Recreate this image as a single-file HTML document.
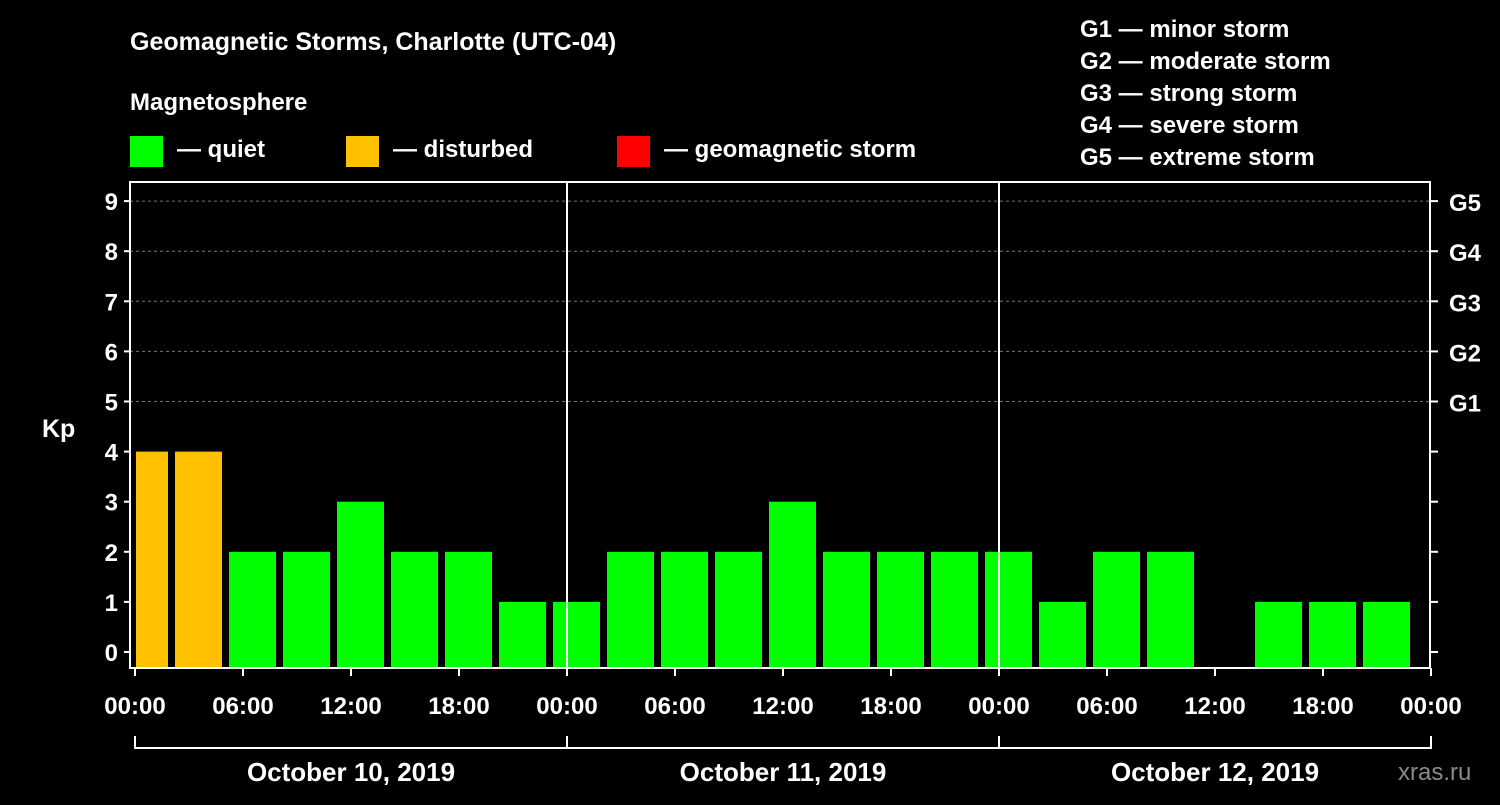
<!DOCTYPE html>
<html><head><meta charset="utf-8"><style>
body{margin:0;background:#000;width:1500px;height:800px;overflow:hidden}
svg text{font-family:"Liberation Sans",Arial,sans-serif;font-weight:bold;fill:#fff}
</style></head><body>
<svg id="c" width="1500" height="800">
<text x="130" y="50" font-size="25">Geomagnetic Storms, Charlotte (UTC-04)</text>
<text x="130" y="110" font-size="24">Magnetosphere</text>
<g><rect x="130" y="136" width="33" height="31" fill="#00ff00"/><text x="177" y="157" font-size="24">— quiet</text></g>
<g><rect x="346" y="136" width="33" height="31" fill="#ffc000"/><text x="393" y="157" font-size="24">— disturbed</text></g>
<g><rect x="617" y="136" width="33" height="31" fill="#ff0000"/><text x="664" y="157" font-size="24">— geomagnetic storm</text></g>
<g font-size="24">
<text x="1080" y="37">G1 — minor storm</text><text x="1080" y="69">G2 — moderate storm</text><text x="1080" y="101">G3 — strong storm</text><text x="1080" y="133">G4 — severe storm</text><text x="1080" y="165">G5 — extreme storm</text></g>
<text x="42" y="437" font-size="25">Kp</text>
<text x="1398" y="780" font-size="24" fill="#888" style="fill:#8a8a8a;font-weight:normal">xras.ru</text>
<g id="grid"></g><g id="bars"></g><g id="axes"></g>
</svg>
<script>
const values=[4,4,2,2,3,2,2,1, 1,2,2,2,3,2,2,2, 2,1,2,2,0,1,1,1];
const yTicks=[0,1,2,3,4,5,6,7,8,9];
const gLabels=["G1","G2","G3","G4","G5"];
const xTickLabels=["00:00","06:00","12:00","18:00","00:00","06:00","12:00","18:00","00:00","06:00","12:00","18:00","00:00"];
const days=["October 10, 2019","October 11, 2019","October 12, 2019"];
const NS="http://www.w3.org/2000/svg";
const L=130,R=1430,T=182,B=668,X0=135,DAY=432;
const y=v=>652-50.1*v;
const x=h=>X0+h*DAY/24;
function mk(tag,attrs,parent,txt){const e=document.createElementNS(NS,tag);for(const k in attrs)e.setAttribute(k,attrs[k]);if(txt!==undefined)e.textContent=txt;document.getElementById(parent).appendChild(e);return e;}
for(let v=5;v<=9;v++){const g=mk('line',{x1:L,x2:R,y1:y(v),y2:y(v),stroke:'#777','stroke-dasharray':'3,3'},'grid');

}
values.forEach((v,i)=>{if(!v)return;let l=x(i*3)-14,r=l+47;if(l<L+6)l=L+6;
const c=v>=5?'#ff0000':v>=4?'#ffc000':'#00ff00';
const b=mk('rect',{x:l,y:y(v),width:r-l,height:B-y(v),fill:c},'bars');

});
const f=mk('rect',{x:L,y:T,width:R-L,height:B-T,fill:'none',stroke:'#fff','stroke-width':2},'axes');


[1,2].forEach(d=>{const ln=mk('line',{x1:x(24*d),x2:x(24*d),y1:T,y2:B,stroke:'#fff','stroke-width':2},'axes');

});
yTicks.forEach(v=>{mk('line',{x1:L-6,x2:L,y1:y(v),y2:y(v),stroke:'#fff','stroke-width':2},'axes');
mk('line',{x1:R,x2:R+8,y1:y(v),y2:y(v),stroke:'#fff','stroke-width':2},'axes');
const t=mk('text',{x:L-12,y:y(v)+9,'font-size':24,'text-anchor':'end'},'axes',v);


if(v>=5){const g=mk('text',{x:R+19,y:y(v)+10,'font-size':24},'axes',gLabels[v-5]);

}});
xTickLabels.forEach((s,i)=>{const xx=x(i*6);mk('line',{x1:xx,x2:xx,y1:B,y2:B+8,stroke:'#fff','stroke-width':2},'axes');
const t=mk('text',{x:xx,y:714,'font-size':24,'text-anchor':'middle'},'axes',s);

});
const br=mk('path',{d:`M${x(0)} 736V748H${x(72)}V736M${x(24)} 736V748M${x(48)} 736V748`,fill:'none',stroke:'#fff','stroke-width':2},'axes');


days.forEach((d,i)=>{const t=mk('text',{x:x(24*i+12),y:781,'font-size':26,'text-anchor':'middle'},'axes',d);

});
</script>
</body></html>
